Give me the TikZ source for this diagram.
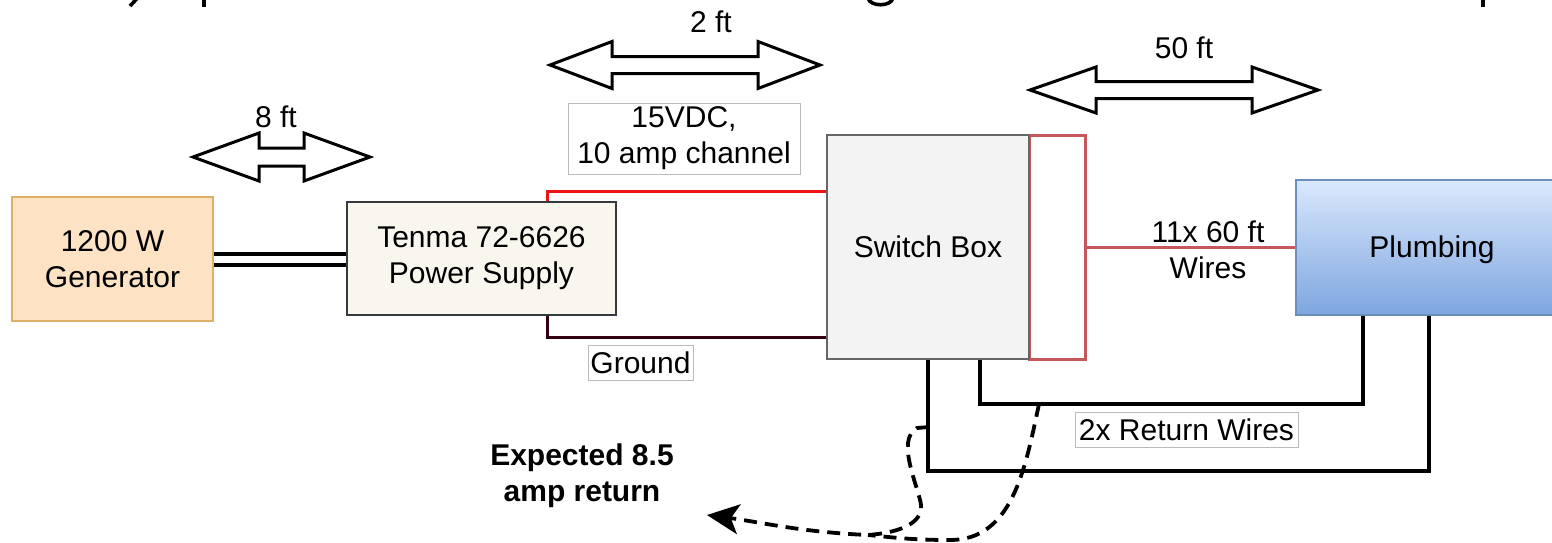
\documentclass[tikz,border=0pt]{standalone}
\usepackage{fontspec}
\setmainfont{Liberation Sans}
\usetikzlibrary{arrows.meta,calc}
\definecolor{genfill}{HTML}{FDE3C4}
\definecolor{gendraw}{HTML}{DDB06A}
\definecolor{psfill}{HTML}{F9F7ED}
\definecolor{psdraw}{HTML}{36393D}
\definecolor{swfill}{HTML}{F3F3F3}
\definecolor{swdraw}{HTML}{666666}
\definecolor{rrdraw}{HTML}{C4585A}
\definecolor{wirered}{HTML}{EE1414}
\definecolor{wiregnd}{HTML}{33000F}
\definecolor{pltop}{HTML}{DAE8FC}
\definecolor{plbot}{HTML}{7EA6E0}
\definecolor{pldraw}{HTML}{6C8EBF}
\definecolor{lbldraw}{HTML}{BBBBBB}
\newcommand{\myDArrow}[6]{%
  \draw[darrow] (#1,#3) -- (#1+#4,#3-#5) -- (#1+#4,#3-#6) -- (#2-#4,#3-#6) -- (#2-#4,#3-#5) -- (#2,#3) -- (#2-#4,#3+#5) -- (#2-#4,#3+#6) -- (#1+#4,#3+#6) -- (#1+#4,#3+#5) -- cycle;}
\begin{document}
\begin{tikzpicture}[x=1pt,y=-1pt,
  every node/.style={font=\fontsize{30}{36}\selectfont, align=center, inner sep=0pt},
  box/.style={draw, line width=2pt},
  lbl/.style={draw=lbldraw, line width=1pt, fill=white},
  darrow/.style={draw=black, fill=white, line width=3pt, line join=miter},
  redw/.style={draw=wirered, line width=3pt},
  gndw/.style={draw=wiregnd, line width=3pt},
  rrw/.style={draw=rrdraw, line width=3pt},
  retw/.style={draw=black, line width=4pt},
  dashflow/.style={draw=black, line width=3.8pt, dash pattern=on 13pt off 8pt},
  frag/.style={draw=black, line width=3.6pt}]
\useasboundingbox (0,0) rectangle (1552,542);
\clip (0,0) rectangle (1552,542);
% fragments of cut-off text at the top
\draw[frag] (137.5,-2) -- (130,6);
\draw[frag] (204,-2) -- (204,6.5);
\draw[frag] (868,-2) .. controls (870,7) and (891,7) .. (893,-2);
\draw[frag] (1483,-2) -- (1483,7);
% distance arrows
\myDArrow{193}{370}{157}{66}{24}{9}
\myDArrow{550}{820}{65}{62}{23.5}{8.5}
\myDArrow{1030}{1318}{90}{66}{23}{8.5}
\node (l8) at (276,117) {8 ft};
\node (l2) at (711,22) {2 ft};
\node (l50) at (1184,48) {50 ft};
% boxes
\node[box, draw=gendraw, fill=genfill, minimum width=201pt, minimum height=124pt] (gen) at (112.5,259) {1200 W\\Generator};
\node[box, draw=psdraw, fill=psfill, minimum width=269pt, minimum height=113pt] (ps) at (481.5,258.5) {Tenma 72-6626\\Power Supply};
\node[box, draw=rrdraw, line width=3pt, fill=white, minimum width=56pt, minimum height=224pt] (rr) at (1057,247) {};
\node[box, draw=swdraw, fill=swfill, minimum width=202pt, minimum height=224pt] (sw) at (928,247) {Switch Box};
\node[box, draw=pldraw, top color=pltop, bottom color=plbot, minimum width=272pt, minimum height=135pt] (pl) at (1432,247.5) {};
\node (pltext) at (1432,250) {Plumbing};
% wires
\draw[line width=4pt, double=white, double distance=7pt] (gen.east) -- (gen.east -| ps.west);
\draw[redw] ([xshift=201pt]ps.north west) |- ([yshift=56pt]sw.west);
\draw[gndw] ([xshift=201pt]ps.south west) |- ([yshift=-90pt]sw.west);
\draw[rrw] (rr.east) -- (rr.east -| pl.west);
\node (l11) at (1208,250) {11x 60 ft\\Wires};
\draw[retw] ([xshift=154pt]sw.south west) -- ++(0,44) -| ([xshift=68pt]pl.south west);
\draw[retw] ([xshift=102pt]sw.south west) -- ++(0,111) -| ([xshift=134pt]pl.south west);
% labels
\node[lbl, minimum width=232pt, minimum height=71pt] (l15) at (684,138.5) {15VDC,\\10 amp channel};
\node[lbl, minimum width=105pt, minimum height=35pt] (lg) at (640.5,362.5) {Ground};
\node[lbl, minimum width=223pt, minimum height=35pt] (lr) at (1186.5,429.5) {2x Return Wires};
\node[font=\fontsize{30}{36}\selectfont\bfseries] (lexp) at (582,476) {Expected 8.5\\amp return};
% expected return flow
\coordinate (sa) at (929,427);
\coordinate (sb) at (1039,404);
\coordinate (mg) at (868,535);
\coordinate (tip) at (707,515);
\draw[dashflow, -{Stealth[length=32pt,width=30pt,inset=8pt]}] (sa) -- (917,428) .. controls (895,440) and (919,488) .. (921,505) .. controls (923,525) and (895,533) .. (mg) .. controls (800,532) and (760,522) .. (tip);
\draw[dashflow] (sb) .. controls (1025,470) and (1012,540) .. (950,540) .. controls (910,540) and (890,537) .. (mg);
\end{tikzpicture}
\end{document}
